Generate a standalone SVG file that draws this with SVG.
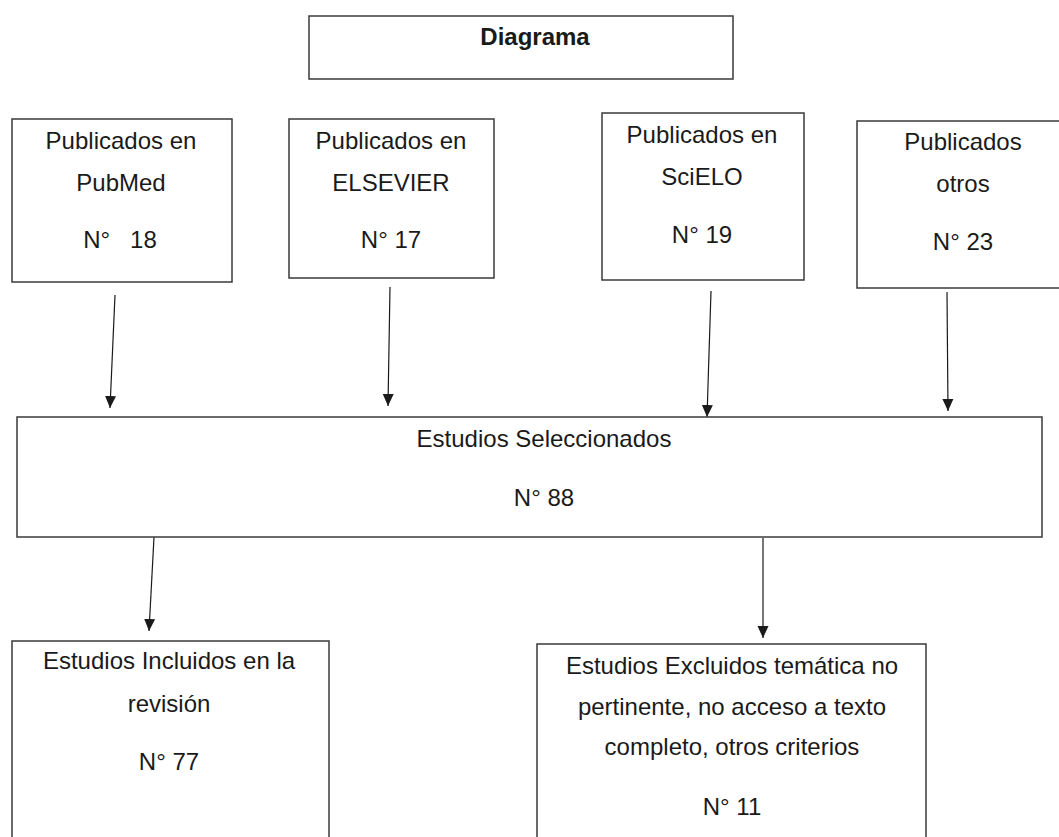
<svg xmlns="http://www.w3.org/2000/svg" width="1059" height="837" viewBox="0 0 1059 837">
<style>
.box{fill:#fff;stroke:#3a3a3a;stroke-width:1.5}
.t{font-family:"Liberation Sans",Arial,sans-serif;font-size:24px;fill:#1a1a1a;text-anchor:middle;white-space:pre}
.b{font-weight:bold}
.c{stroke:#1a1a1a;stroke-width:1.2;fill:none;marker-end:url(#ah)}
</style>
<defs>
<marker id="ah" viewBox="0 0 12 12" refX="12" refY="6" markerWidth="12" markerHeight="12" markerUnits="userSpaceOnUse" orient="auto">
<path d="M0,0.5 L12,6 L0,11.5 Z" fill="#1a1a1a"/>
</marker>
</defs>
<rect width="1059" height="837" fill="#fff"/>
<g id="connectors">
<line class="c" x1="115" y1="295" x2="110" y2="408"/>
<line class="c" x1="390" y1="287" x2="388" y2="406"/>
<line class="c" x1="711" y1="291" x2="707" y2="417"/>
<line class="c" x1="947" y1="292" x2="948" y2="411"/>
<line class="c" x1="154" y1="537" x2="149" y2="631"/>
<line class="c" x1="763" y1="538" x2="763" y2="638"/>
</g>
<g id="title">
<rect class="box" x="309" y="16" width="424" height="63"/>
<text class="t b" x="535" y="45">Diagrama</text>
</g>
<g id="pubmed">
<rect class="box" x="12" y="119" width="220" height="163"/>
<text class="t" x="121" y="149">Publicados en</text>
<text class="t" x="121" y="191">PubMed</text>
<text class="t" x="120" y="248">N°   18</text>
</g>
<g id="elsevier">
<rect class="box" x="289" y="119" width="205" height="159"/>
<text class="t" x="391" y="149">Publicados en</text>
<text class="t" x="391" y="191">ELSEVIER</text>
<text class="t" x="391" y="248">N° 17</text>
</g>
<g id="scielo">
<rect class="box" x="602" y="113" width="202" height="167"/>
<text class="t" x="702" y="143">Publicados en</text>
<text class="t" x="702" y="185">SciELO</text>
<text class="t" x="702" y="243">N° 19</text>
</g>
<g id="otros">
<rect class="box" x="857" y="121" width="213" height="167"/>
<text class="t" x="963" y="150">Publicados</text>
<text class="t" x="963" y="192">otros</text>
<text class="t" x="963" y="250">N° 23</text>
</g>
<g id="seleccionados">
<rect class="box" x="17" y="417" width="1025" height="120"/>
<text class="t" x="544" y="447">Estudios Seleccionados</text>
<text class="t" x="544" y="506">N° 88</text>
</g>
<g id="incluidos">
<rect class="box" x="12" y="641" width="317" height="210"/>
<text class="t" x="169" y="669">Estudios Incluidos en la</text>
<text class="t" x="169" y="712">revisión</text>
<text class="t" x="169" y="770">N° 77</text>
</g>
<g id="excluidos">
<rect class="box" x="537" y="644" width="389" height="210"/>
<text class="t" x="732" y="674">Estudios Excluidos temática no</text>
<text class="t" x="732" y="715">pertinente, no acceso a texto</text>
<text class="t" x="732" y="755">completo, otros criterios</text>
<text class="t" x="732" y="815">N° 11</text>
</g>
</svg>
